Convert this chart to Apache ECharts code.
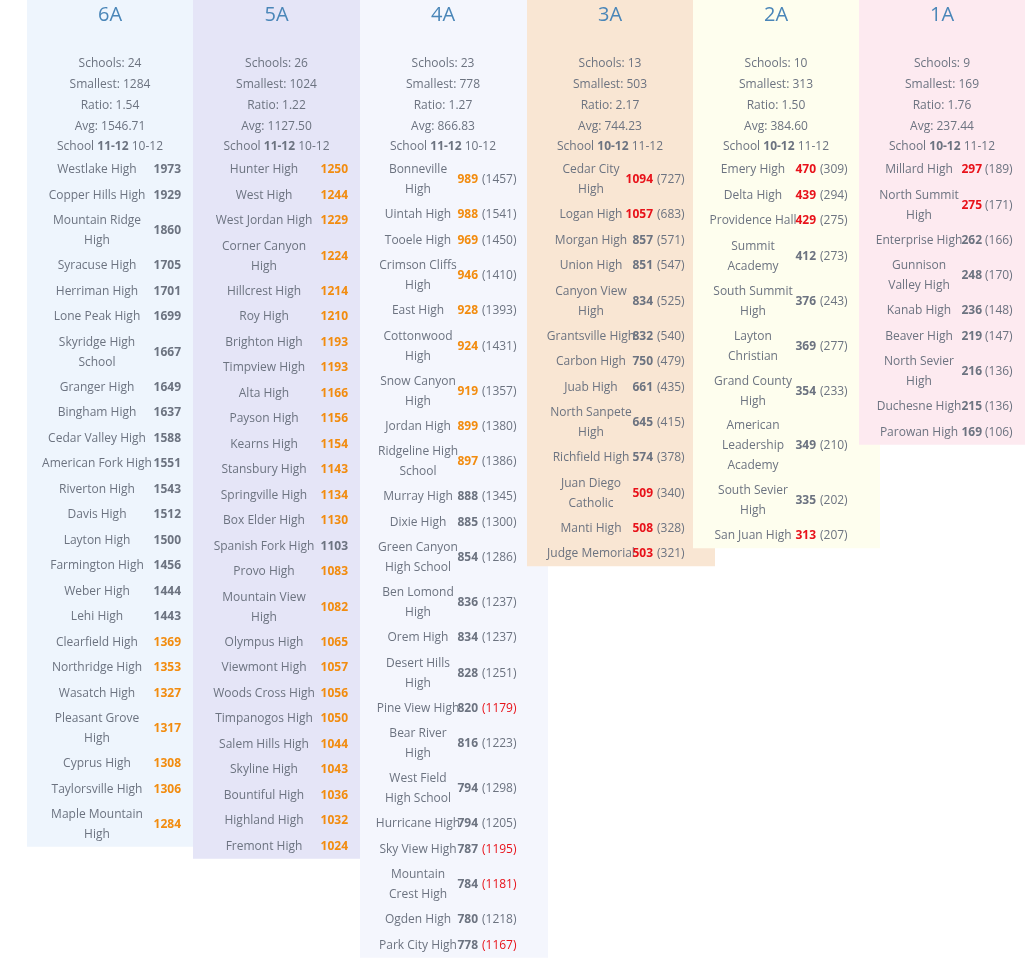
<!DOCTYPE html>
<html><head><meta charset="utf-8">
<script src="https://cdn.jsdelivr.net/npm/echarts@6/dist/echarts.min.js"></script>
<style>html,body{margin:0;padding:0;background:#fff}#c{width:1025px;height:960px}</style>
</head><body><div id="c"></div>
<script>
// ---- data ----
const classes = ["6A","5A","4A","3A","2A","1A"];
const schoolCounts = [24,26,23,13,10,9];
const smallest = [1284,1024,778,503,313,169];
const ratios = ["1.54","1.22","1.27","2.17","1.50","1.76"];
const avgs = ["1546.71","1127.50","866.83","744.23","384.60","237.44"];
const gradeMain = ["11-12","11-12","11-12","10-12","10-12","10-12"];
const gradeAlt = ["10-12","10-12","10-12","11-12","11-12","11-12"];

const names6A = ["Westlake High","Copper Hills High","Mountain Ridge\nHigh","Syracuse High","Herriman High","Lone Peak High","Skyridge High\nSchool","Granger High","Bingham High","Cedar Valley High","American Fork High","Riverton High","Davis High","Layton High","Farmington High","Weber High","Lehi High","Clearfield High","Northridge High","Wasatch High","Pleasant Grove\nHigh","Cyprus High","Taylorsville High","Maple Mountain\nHigh"];
const vals6A = [1973,1929,1860,1705,1701,1699,1667,1649,1637,1588,1551,1543,1512,1500,1456,1444,1443,1369,1353,1327,1317,1308,1306,1284];
const flag6A = [0,0,0,0,0,0,0,0,0,0,0,0,0,0,0,0,0,1,1,1,1,1,1,1];

const names5A = ["Hunter High","West High","West Jordan High","Corner Canyon\nHigh","Hillcrest High","Roy High","Brighton High","Timpview High","Alta High","Payson High","Kearns High","Stansbury High","Springville High","Box Elder High","Spanish Fork High","Provo High","Mountain View\nHigh","Olympus High","Viewmont High","Woods Cross High","Timpanogos High","Salem Hills High","Skyline High","Bountiful High","Highland High","Fremont High"];
const vals5A = [1250,1244,1229,1224,1214,1210,1193,1193,1166,1156,1154,1143,1134,1130,1103,1083,1082,1065,1057,1056,1050,1044,1043,1036,1032,1024];
const flag5A = [1,1,1,1,1,1,1,1,1,1,1,1,1,1,0,1,1,1,1,1,1,1,1,1,1,1];

const names4A = ["Bonneville\nHigh","Uintah High","Tooele High","Crimson Cliffs\nHigh","East High","Cottonwood\nHigh","Snow Canyon\nHigh","Jordan High","Ridgeline High\nSchool","Murray High","Dixie High","Green Canyon\nHigh School","Ben Lomond\nHigh","Orem High","Desert Hills\nHigh","Pine View High","Bear River\nHigh","West Field\nHigh School","Hurricane High","Sky View High","Mountain\nCrest High","Ogden High","Park City High"];
const vals4A = [989,988,969,946,928,924,919,899,897,888,885,854,836,834,828,820,816,794,794,787,784,780,778];
const alt4A = [1457,1541,1450,1410,1393,1431,1357,1380,1386,1345,1300,1286,1237,1237,1251,1179,1223,1298,1205,1195,1181,1218,1167];
const flag4A = [1,1,1,1,1,1,1,1,1,0,0,0,0,0,0,0,0,0,0,0,0,0,0];
const altFlag4A = [0,0,0,0,0,0,0,0,0,0,0,0,0,0,0,1,0,0,0,1,1,0,1];

const names3A = ["Cedar City\nHigh","Logan High","Morgan High","Union High","Canyon View\nHigh","Grantsville High","Carbon High","Juab High","North Sanpete\nHigh","Richfield High","Juan Diego\nCatholic","Manti High","Judge Memorial"];
const vals3A = [1094,1057,857,851,834,832,750,661,645,574,509,508,503];
const alt3A = [727,683,571,547,525,540,479,435,415,378,340,328,321];
const flag3A = [2,2,0,0,0,0,0,0,0,0,2,2,2];

const names2A = ["Emery High","Delta High","Providence Hall","Summit\nAcademy","South Summit\nHigh","Layton\nChristian","Grand County\nHigh","American\nLeadership\nAcademy","South Sevier\nHigh","San Juan High"];
const vals2A = [470,439,429,412,376,369,354,349,335,313];
const alt2A = [309,294,275,273,243,277,233,210,202,207];
const flag2A = [2,2,2,0,0,0,0,0,0,2];

const names1A = ["Millard High","North Summit\nHigh","Enterprise High","Gunnison\nValley High","Kanab High","Beaver High","North Sevier\nHigh","Duchesne High","Parowan High"];
const vals1A = [297,275,262,248,236,219,216,215,169];
const alt1A = [189,171,166,170,148,147,136,136,106];
const flag1A = [2,2,0,0,0,0,0,0,0];

// ---- layout / style ----
const cols = [
  {x:27, w:166, bg:'#eef5fd', names:names6A, vals:vals6A, flags:flag6A, nameX:70, numR:154},
  {x:193,w:167, bg:'#e5e5f7', names:names5A, vals:vals5A, flags:flag5A, nameX:71, numR:155},
  {x:360,w:188, bg:'#f4f6fd', names:names4A, vals:vals4A, flags:flag4A, alt:alt4A, altFlags:altFlag4A, nameX:58, numR:118, altL:122, cx:83},
  {x:527,w:188, bg:'#f9e6d3', names:names3A, vals:vals3A, flags:flag3A, alt:alt3A, nameX:64, numR:126, altL:130, cx:83},
  {x:693,w:187, bg:'#fefeee', names:names2A, vals:vals2A, flags:flag2A, alt:alt2A, nameX:60, numR:123, altL:127, cx:83},
  {x:859,w:166, bg:'#fdeaf0', names:names1A, vals:vals1A, flags:flag1A, alt:alt1A, nameX:60, numR:123, altL:126, cx:83}
];
const gray = '#6c7380', orange = '#f28c0f', red = '#e8121a';
const font = '"Open Sans", sans-serif';
const fs = 12;
const colorOf = f => f === 1 ? orange : (f === 2 ? red : gray);

const elements = [];
cols.forEach((c, i) => {
  const cx = c.x + (c.cx || c.w/2);
  // rows
  let y = 157.25;
  const rowEls = [];
  c.names.forEach((n, r) => {
    const lines = n.split('\n').length;
    const h = lines === 1 ? 25.5 : 25.5 + (lines - 1) * 19.5;
    const mid = y + h/2;
    rowEls.push({type:'text', style:{text:n, x:c.x + c.nameX, y:mid, align:'center', verticalAlign:'middle', fill:gray, font:fs+'px '+font, lineHeight:20}});
    rowEls.push({type:'text', style:{text:String(c.vals[r]), x:c.x + c.numR, y:mid, align:'right', verticalAlign:'middle', fill:colorOf(c.flags[r]), font:'bold '+fs+'px '+font}});
    if (c.alt) {
      rowEls.push({type:'text', style:{text:'('+c.alt[r]+')', x:c.x + c.altL, y:mid, align:'left', verticalAlign:'middle', fill:(c.altFlags && c.altFlags[r]) ? red : gray, font:fs+'px '+font}});
    }
    y += h;
  });
  elements.push({type:'rect', shape:{x:c.x, y:0, width:c.w, height:y - 0.5}, style:{fill:c.bg}, z:i});
  rowEls.forEach(e => { e.z = 10; elements.push(e); });
  elements.push({type:'text', z:10, style:{text:classes[i], x:cx, y:15, align:'center', verticalAlign:'middle', fill:'#4a86b8', font:'20px '+font}});
  const stats = ['Schools: '+schoolCounts[i], 'Smallest: '+smallest[i], 'Ratio: '+ratios[i], 'Avg: '+avgs[i]];
  stats.forEach((s, k) => elements.push({type:'text', z:10, style:{text:s, x:cx, y:64 + k*20.8, align:'center', verticalAlign:'middle', fill:gray, font:fs+'px '+font}}));
  elements.push({type:'text', z:10, style:{text:'School {b|'+gradeMain[i]+'} '+gradeAlt[i], x:cx, y:147, align:'center', verticalAlign:'middle', fill:gray, font:fs+'px '+font,
    rich:{b:{fontWeight:'bold', fontSize:fs, fontFamily:font, fill:gray}}}});
});

const chart = echarts.init(document.getElementById('c'));
chart.setOption({animation:false, graphic:{elements:elements}});
</script></body></html>
